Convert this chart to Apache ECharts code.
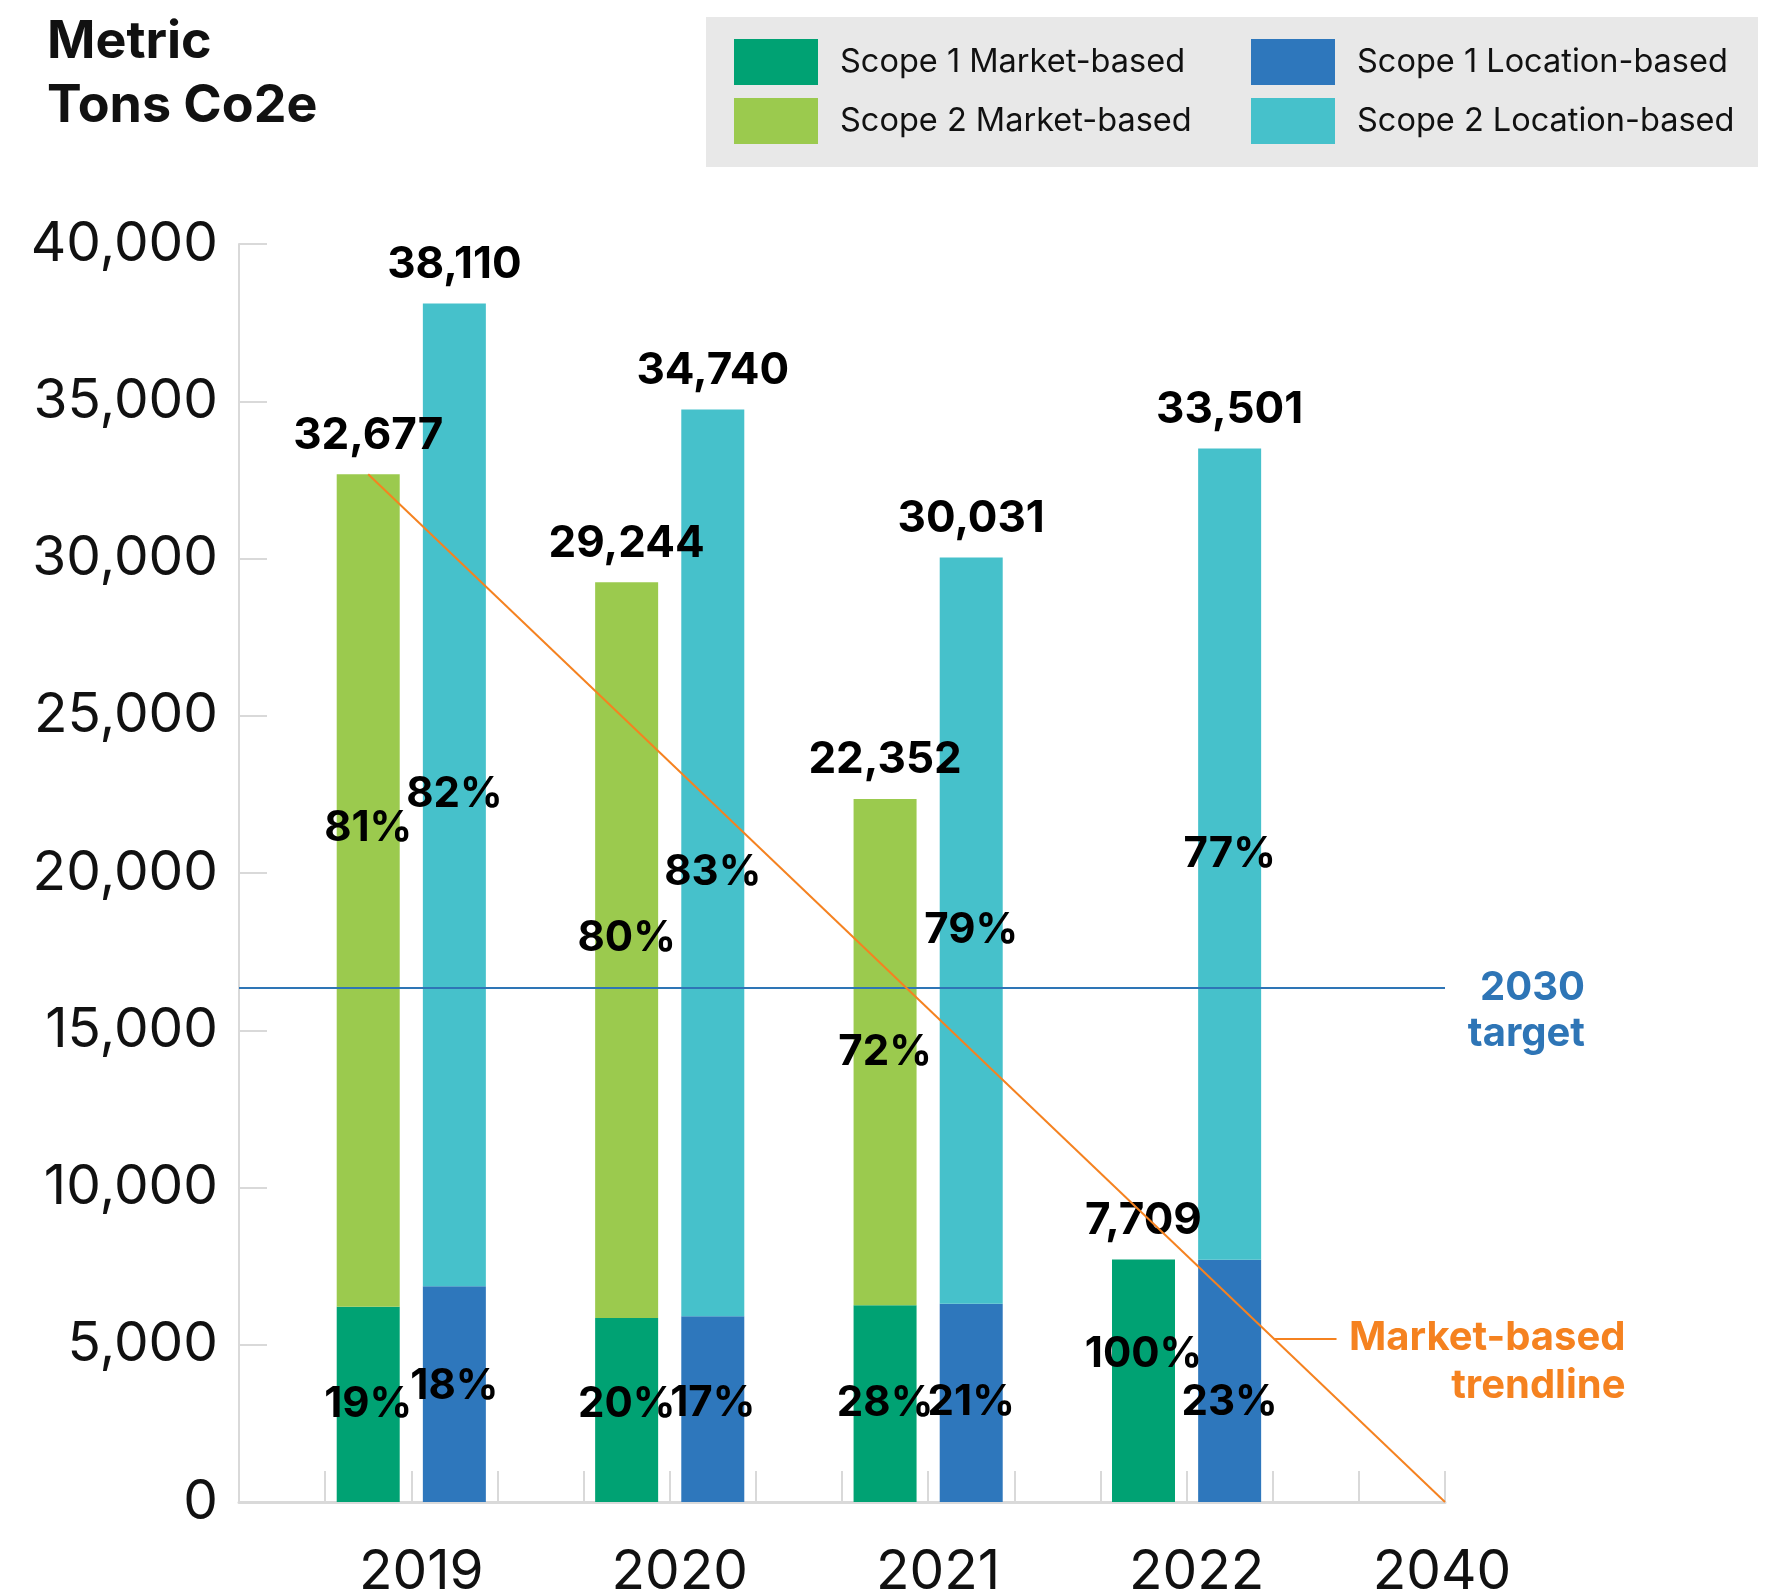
<!DOCTYPE html>
<html>
<head>
<meta charset="utf-8">
<script src="https://cdn.jsdelivr.net/npm/echarts@6/dist/echarts.min.js"></script>
<style>
  html, body { margin: 0; padding: 0; background: #ffffff; }
  #chart { width: 1778px; height: 1596px; }
</style>
</head>
<body>
<div id="chart"></div>
<script>
// Reporting years (bars) and the horizon year the trendline reaches zero
const years = ['2019', '2020', '2021', '2022'];
const horizonYear = '2040';

// Market-based totals (metric tons CO2e) and scope shares (%)
const marketTotals = [32677, 29244, 22352, 7709];
const marketScope1Pct = [19, 20, 28, 100];
const marketScope2Pct = [81, 80, 72, 0];

// Location-based totals (metric tons CO2e) and scope shares (%)
const locationTotals = [38110, 34740, 30031, 33501];
const locationScope1Pct = [18, 17, 21, 23];
const locationScope2Pct = [82, 83, 79, 77];

// 2030 target: half of the 2019 market-based total
const target2030 = 16339;

// Market-based trendline: 2019 value down to zero in 2040
const trendValues = [32677, 0];

// Value axis ticks
const yMin = 0;
const yMax = 40000;
const yStep = 5000;

const seriesNames = {
  s1m: 'Scope 1 Market-based',
  s2m: 'Scope 2 Market-based',
  s1l: 'Scope 1 Location-based',
  s2l: 'Scope 2 Location-based'
};

const colors = {
  s1m: '#00a273',
  s2m: '#9bca4e',
  s1l: '#2e77bc',
  s2l: '#46c1cb',
  trend: '#f58220',
  target: '#2e75b6',
  axis: '#d9d9d9',
  text: '#111111'
};

const FONT = 'Inter, Roboto, sans-serif';

// Each year takes three slots on the category axis: market bar, location bar, gap.
// One leading gap slot; the slot boundary after the location bar holds the year label.
const SLOTS_PER_YEAR = 3;
const slotCount = SLOTS_PER_YEAR * (years.length + 1) - 1;
const marketSlot = i => SLOTS_PER_YEAR * i + 1;
const locationSlot = i => SLOTS_PER_YEAR * i + 2;
const yearBoundary = i => SLOTS_PER_YEAR * i + 2;
const axisYears = years.concat([horizonYear]);

// Small vertical nudges for a few share labels inside their segments
const labelNudge = {
  's2m-0': -62, 's2m-1': -12, 's2l-1': 10, 's1l-0': -8,
  's1m-1': -6, 's1l-1': -6,
  's1m-3': -26, 's1l-3': 22
};

function slotData(fillFn) {
  const out = new Array(slotCount).fill('-');
  years.forEach((y, i) => {
    out[marketSlot(i)] = fillFn('market', i);
    out[locationSlot(i)] = fillFn('location', i);
  });
  return out;
}

function segment(key, basis, scope) {
  const totals = basis === 'market' ? marketTotals : locationTotals;
  const pcts = basis === 'market'
    ? (scope === 1 ? marketScope1Pct : marketScope2Pct)
    : (scope === 1 ? locationScope1Pct : locationScope2Pct);
  return function (b, i) {
    if (b !== basis) return '-';
    const pct = pcts[i];
    if (!pct) return '-';
    const item = { value: totals[i] * pct / 100, pct: pct };
    const nudge = labelNudge[key + '-' + i];
    if (nudge) item.label = { offset: [0, nudge] };
    return item;
  };
}

const pctLabel = {
  show: true,
  position: 'inside',
  fontFamily: FONT,
  fontSize: 42,
  fontWeight: 'bold',
  color: '#000000',
  formatter: p => (p.data && p.data.pct ? p.data.pct + '%' : '')
};

function barSeries(key, basis, scope) {
  return {
    name: seriesNames[key],
    type: 'bar',
    stack: 'all',
    xAxisIndex: 0,
    yAxisIndex: 0,
    barWidth: 63,
    itemStyle: { color: colors[key] },
    label: pctLabel,
    data: slotData(segment(key, basis, scope))
  };
}

// Zero-height cap bar carrying the total label on top of each stack
const totalSeries = {
  name: 'Total',
  type: 'bar',
  stack: 'all',
  xAxisIndex: 0,
  yAxisIndex: 0,
  barWidth: 63,
  itemStyle: { color: 'rgba(0,0,0,0)' },
  label: {
    show: true,
    position: 'top',
    distance: 17,
    fontFamily: FONT,
    fontSize: 44,
    fontWeight: 'bold',
    color: '#000000',
    formatter: p => (p.data ? p.data.total.toLocaleString('en-US') : '')
  },
  data: slotData((b, i) => ({ value: 0, total: b === 'market' ? marketTotals[i] : locationTotals[i] }))
};

// Trendline runs from the 2019 market-based bar to the 2040 boundary
const trendStartX = marketSlot(0) + 0.5;
const trendEndX = yearBoundary(axisYears.length - 1);
const trendX = v => trendStartX + (trendEndX - trendStartX) * (1 - v / trendValues[0]);
const leaderValue = 5200;

// Annotation text: a leading blank line keeps the first text line centred on its line
const targetText = '\n2030\ntarget';
const trendText = '\nMarket-based\ntrendline';

const trendSeries = {
  name: 'Market-based trendline',
  type: 'line',
  xAxisIndex: 1,
  yAxisIndex: 0,
  symbol: 'none',
  z: 5,
  lineStyle: { color: colors.trend, width: 2 },
  data: [[trendStartX, trendValues[0]], [trendEndX, trendValues[1]]],
  markLine: {
    silent: true,
    symbol: 'none',
    animation: false,
    data: [
      {
        yAxis: target2030,
        lineStyle: { color: colors.target, width: 2, type: 'solid' },
        label: {
          show: true,
          position: 'end',
          align: 'right',
          verticalAlign: 'middle',
          distance: 140,
          lineHeight: 46,
          fontFamily: FONT,
          fontSize: 40,
          fontWeight: 'bold',
          color: colors.target,
          formatter: targetText
        }
      },
      [
        {
          coord: [trendX(leaderValue), leaderValue],
          lineStyle: { color: colors.trend, width: 2, type: 'solid' },
          label: {
            show: true,
            position: 'end',
            align: 'right',
            verticalAlign: 'middle',
            distance: 289,
            lineHeight: 48,
            fontFamily: FONT,
            fontSize: 40,
            fontWeight: 'bold',
            color: colors.trend,
            formatter: trendText
          }
        },
        { coord: [trendX(leaderValue) + 0.73, leaderValue] }
      ]
    ]
  }
};

const chart = echarts.init(document.getElementById('chart'), null, { renderer: 'canvas' });

const legendCommon = {
  orient: 'vertical',
  top: 19,
  padding: [20, 0, 0, 28],
  itemWidth: 84,
  itemHeight: 46,
  itemGap: 13,
  icon: 'rect',
  selectedMode: false,
  textStyle: { fontFamily: FONT, fontSize: 32.5, color: colors.text, padding: [0, 0, 0, 17] }
};

const yearLabelStyle = { fontFamily: FONT, fontSize: 55, color: colors.text };

chart.setOption({
  animation: false,
  backgroundColor: '#ffffff',
  textStyle: { fontFamily: FONT },
  title: {
    text: 'Metric\nTons Co2e',
    left: 42,
    top: 5,
    textStyle: {
      fontFamily: FONT,
      fontSize: 52,
      fontWeight: 'bold',
      lineHeight: 64,
      color: colors.text
    }
  },
  graphic: [{
    type: 'rect',
    left: 706,
    top: 17,
    z: -1,
    shape: { width: 1052, height: 150 },
    style: { fill: '#e8e8e8' }
  }],
  legend: [
    Object.assign({ data: [seriesNames.s1m, seriesNames.s2m], left: 706 }, legendCommon),
    Object.assign({ data: [seriesNames.s1l, seriesNames.s2l], left: 1223 }, legendCommon)
  ],
  grid: {
    left: 239,
    right: 333,
    top: 244,
    bottom: 94,
    containLabel: false,
    outerBoundsMode: 'none'
  },
  xAxis: [
    {
      type: 'category',
      data: new Array(slotCount).fill(''),
      boundaryGap: true,
      axisLine: { show: true, lineStyle: { color: colors.axis, width: 3 } },
      axisTick: { show: true, inside: true, length: 31, interval: 0, lineStyle: { color: colors.axis, width: 2 } },
      axisLabel: { show: false },
      splitLine: { show: false }
    },
    {
      type: 'value',
      position: 'bottom',
      min: 0,
      max: slotCount,
      axisLine: { show: false },
      axisTick: { show: false },
      splitLine: { show: false },
      axisLabel: {
        show: true,
        customValues: axisYears.map((y, i) => yearBoundary(i)),
        formatter: v => {
          const i = axisYears.findIndex((y, k) => yearBoundary(k) === v);
          if (i < 0) return '';
          // reporting years sit a touch right of the bar-pair boundary
          return i < years.length ? '{yr|' + axisYears[i] + '}' : '{hz|' + axisYears[i] + '}';
        },
        rich: {
          yr: Object.assign({ padding: [0, 0, 0, 20] }, yearLabelStyle),
          hz: Object.assign({ padding: [0, 6, 0, 0] }, yearLabelStyle)
        },
        margin: 43,
        fontFamily: FONT,
        fontSize: 55,
        color: colors.text
      }
    }
  ],
  yAxis: {
    type: 'value',
    min: yMin,
    max: yMax,
    interval: yStep,
    axisLine: { show: true, lineStyle: { color: colors.axis, width: 2 } },
    axisTick: { show: true, inside: true, length: 28, lineStyle: { color: colors.axis, width: 2 } },
    splitLine: { show: false },
    axisLabel: {
      margin: 21,
      fontFamily: FONT,
      fontSize: 55,
      color: colors.text,
      formatter: v => v.toLocaleString('en-US')
    }
  },
  series: [
    barSeries('s1m', 'market', 1),
    barSeries('s2m', 'market', 2),
    barSeries('s1l', 'location', 1),
    barSeries('s2l', 'location', 2),
    totalSeries,
    trendSeries
  ]
});
</script>
</body>
</html>
